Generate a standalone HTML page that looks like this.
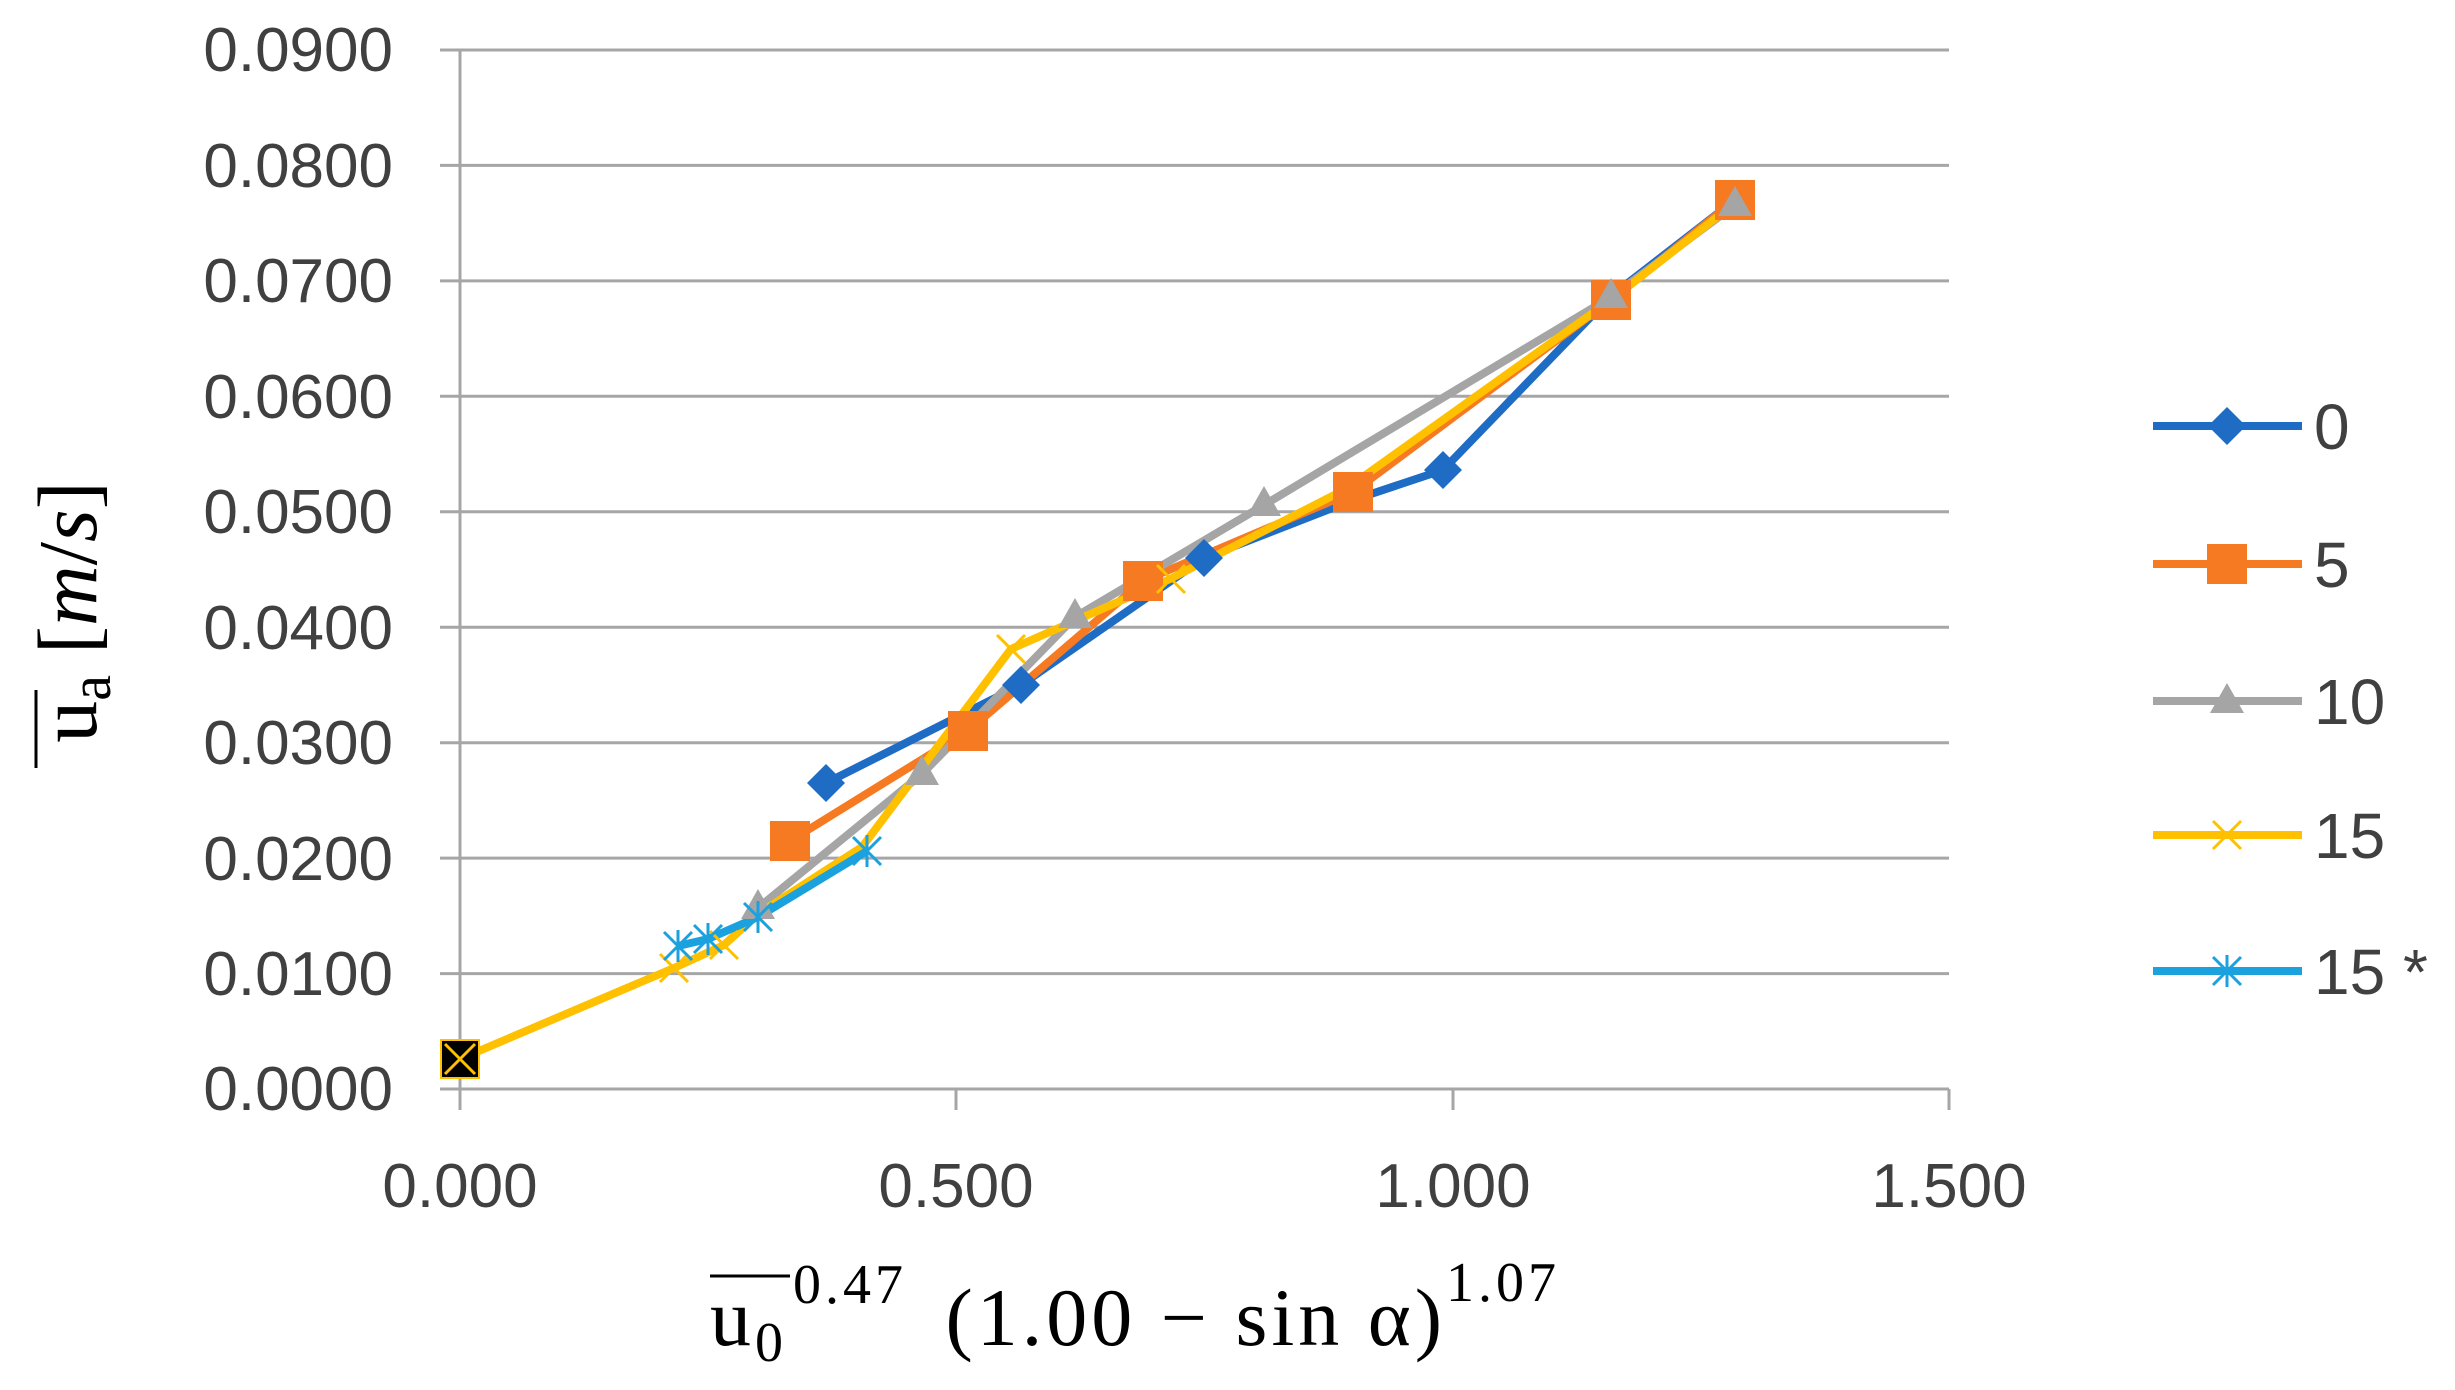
<!DOCTYPE html>
<html><head><meta charset="utf-8"><style>html,body{margin:0;padding:0;background:#fff}svg{display:block}</style></head><body>
<svg width="2455" height="1390" viewBox="0 0 2455 1390" xmlns="http://www.w3.org/2000/svg">
<g stroke="#a6a6a6" stroke-width="3">
<line x1="440" y1="50" x2="1949" y2="50"/><line x1="440" y1="165.4" x2="1949" y2="165.4"/><line x1="440" y1="280.9" x2="1949" y2="280.9"/><line x1="440" y1="396.3" x2="1949" y2="396.3"/><line x1="440" y1="511.8" x2="1949" y2="511.8"/><line x1="440" y1="627.2" x2="1949" y2="627.2"/><line x1="440" y1="742.7" x2="1949" y2="742.7"/><line x1="440" y1="858.1" x2="1949" y2="858.1"/><line x1="440" y1="973.6" x2="1949" y2="973.6"/><line x1="440" y1="1089" x2="1949" y2="1089"/>
<line x1="460" y1="50" x2="460" y2="1110"/><line x1="956" y1="1089" x2="956" y2="1110"/><line x1="1453" y1="1089" x2="1453" y2="1110"/><line x1="1949" y1="1089" x2="1949" y2="1110"/>
</g>
<g font-family="Liberation Sans, sans-serif" font-size="62" fill="#404040" text-anchor="end">
<text x="393" y="71">0.0900</text><text x="393" y="187">0.0800</text><text x="393" y="302">0.0700</text><text x="393" y="418">0.0600</text><text x="393" y="533">0.0500</text><text x="393" y="649">0.0400</text><text x="393" y="764">0.0300</text><text x="393" y="880">0.0200</text><text x="393" y="995">0.0100</text><text x="393" y="1110">0.0000</text>
</g>
<g font-family="Liberation Sans, sans-serif" font-size="62" fill="#404040" text-anchor="middle">
<text x="460" y="1207">0.000</text><text x="956" y="1207">0.500</text><text x="1453" y="1207">1.000</text><text x="1949" y="1207">1.500</text>
</g>
<g fill="none" stroke-width="8" stroke-linejoin="round">
<polyline stroke="#1f6cc4" points="826,783 1021,685 1204,558 1353,500 1443,470 1611,296 1735,200"/>
<polyline stroke="#f57a22" points="790,841 968,731 1143,581 1353,492 1611,300 1735,200"/>
<polyline stroke="#a5a5a5" points="758,908 922,774 1075,617 1264,505 1611,297 1735,205"/>
<polyline stroke="#ffc000" points="460,1059 674,968 724,945 758,914 862,847 1011,649 1170,579 1346,489 1611,300 1735,203"/>
<polyline stroke="#1ba1de" points="678,946 708,939 758,917 867,851"/>
</g>
<g fill="#1f6cc4"><path d="M826,764 L845,783 L826,802 L807,783Z"/><path d="M1021,666 L1040,685 L1021,704 L1002,685Z"/><path d="M1204,539 L1223,558 L1204,577 L1185,558Z"/><path d="M1443,451 L1462,470 L1443,489 L1424,470Z"/></g>
<g fill="#f57a22"><rect x="770" y="821" width="40" height="40"/><rect x="948" y="711" width="40" height="40"/><rect x="1123" y="561" width="40" height="40"/><rect x="1333" y="472" width="40" height="40"/><rect x="1591" y="280" width="40" height="40"/><rect x="1715" y="180" width="40" height="40"/></g>
<g fill="#a5a5a5"><path d="M758,889 L775,919 L741,919Z"/><path d="M922,755 L939,785 L905,785Z"/><path d="M1075,598 L1092,628 L1058,628Z"/><path d="M1264,486 L1281,516 L1247,516Z"/><path d="M1611,278 L1628,308 L1594,308Z"/><path d="M1735,186 L1752,216 L1718,216Z"/></g>
<g stroke="#ffc000" stroke-width="3"><path d="M660,954 l28,28 M688,954 l-28,28 M710,931 l28,28 M738,931 l-28,28 M1157,565 l28,28 M1185,565 l-28,28 M997,635 l28,28 M1025,635 l-28,28"/></g>
<g stroke="#1ba1de" stroke-width="3"><path d="M664,932 l28,28 M692,932 l-28,28 M678,930 v32 M694,925 l28,28 M722,925 l-28,28 M708,923 v32 M744,903 l28,28 M772,903 l-28,28 M758,901 v32 M853,837 l28,28 M881,837 l-28,28 M867,835 v32"/></g>
<rect x="441" y="1040" width="38" height="38" fill="#000" stroke="#ffc000" stroke-width="2"/>
<path d="M445,1044 l30,30 M475,1044 l-30,30" stroke="#ffc000" stroke-width="3"/>
<g stroke-width="8">
<line x1="2153" y1="426" x2="2302" y2="426" stroke="#1f6cc4"/><line x1="2153" y1="564" x2="2302" y2="564" stroke="#f57a22"/><line x1="2153" y1="701" x2="2302" y2="701" stroke="#a5a5a5"/><line x1="2153" y1="835" x2="2302" y2="835" stroke="#ffc000"/><line x1="2153" y1="971" x2="2302" y2="971" stroke="#1ba1de"/>
</g>
<path d="M2227,407 L2246,426 L2227,445 L2208,426Z" fill="#1f6cc4"/>
<rect x="2207" y="544" width="40" height="40" fill="#f57a22"/>
<path d="M2227,683 L2244,713 L2210,713Z" fill="#a5a5a5"/>
<path d="M2213,821 l28,28 M2241,821 l-28,28" stroke="#ffc000" stroke-width="3"/>
<path d="M2213,957 l28,28 M2241,957 l-28,28 M2227,955 v32" stroke="#1ba1de" stroke-width="3"/>
<g font-family="Liberation Sans, sans-serif" font-size="64" fill="#404040">
<text x="2314" y="449">0</text><text x="2314" y="587">5</text><text x="2314" y="724">10</text><text x="2314" y="858">15</text><text x="2314" y="994">15 *</text>
</g>
<g transform="translate(96,612) rotate(-90)" font-family="Liberation Serif, serif" font-size="84" fill="#000" text-anchor="middle">
<text x="0" y="0"><tspan>u</tspan><tspan font-size="58" dy="14">a</tspan><tspan dy="-14"> [</tspan><tspan font-style="italic">m</tspan><tspan>/</tspan><tspan font-style="italic">s</tspan><tspan>]</tspan></text>
</g>
<line x1="36" y1="768" x2="36" y2="690" stroke="#000" stroke-width="3"/>
<g font-family="Liberation Serif, serif" font-size="82" fill="#000">
<text x="710" y="1345" letter-spacing="4">u<tspan font-size="56" dy="16">0</tspan><tspan font-size="56" dy="-58" dx="6">0.47</tspan><tspan dy="42" dx="14"> (1.00 − sin α)</tspan><tspan font-size="56" dy="-44">1.07</tspan></text>
</g>
<line x1="710" y1="1276" x2="790" y2="1276" stroke="#000" stroke-width="3"/>
</svg>
</body></html>
